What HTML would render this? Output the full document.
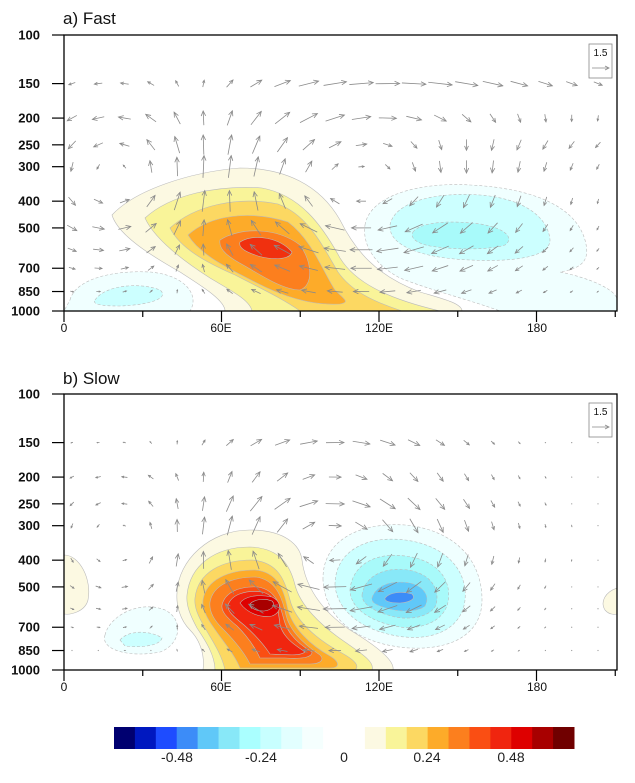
<!DOCTYPE html>
<html><head><meta charset="utf-8">
<style>
html,body{margin:0;padding:0;background:#fff;}
svg{display:block;font-family:"Liberation Sans",Arial,sans-serif;}
</style></head>
<body>
<svg id="s" width="635" height="783" viewBox="0 0 635 783" xmlns="http://www.w3.org/2000/svg">
<defs>
<clipPath id="ca"><rect x="64" y="35" width="553" height="276"/></clipPath>
<clipPath id="cb"><rect x="64" y="394" width="553" height="276"/></clipPath>
</defs>
<g clip-path="url(#ca)" stroke="#bbb" stroke-width="0.6">
 <path fill="#F0FFFF" stroke-dasharray="3,2" d="M70,300 C75,280 110,270 150,272 C185,275 200,295 190,311 L64,311Z"/>
 <path fill="#CCFFFF" stroke-dasharray="3,2" d="M95,300 C105,285 140,282 160,290 C170,298 150,305 120,306 C100,306 92,304 95,300Z"/>
 <path fill="#F0FFFF" stroke-dasharray="3,2" d="M365,225 C370,195 420,182 470,185 C530,188 575,205 585,240 C590,258 585,268 560,272 C590,278 617,290 617,300 L617,311 L500,311 C470,300 430,290 400,278 C375,265 362,245 365,225Z"/>
 <path fill="#CCFFFF" stroke-dasharray="3,2" d="M390,225 C395,200 440,192 480,195 C520,198 548,215 550,240 C550,258 510,262 470,260 C420,258 388,245 390,225Z"/>
 <path fill="#A8FAFA" stroke-dasharray="3,2" d="M413,232 C420,222 450,220 480,224 C505,228 515,238 505,245 C490,250 455,250 430,246 C415,243 410,237 413,232Z"/>
 <path fill="#FCF9E2" d="M112,215 C135,190 190,172 240,168 C285,168 320,185 340,220 C355,250 375,275 420,292 C440,298 462,303 462,311 L225,311 C225,300 200,285 180,272 C150,255 118,235 112,215Z"/>
 <path fill="#F9F499" d="M145,218 C170,195 215,185 262,188 C300,195 322,225 340,258 C355,282 385,298 440,311 L252,311 C250,300 230,290 210,278 C185,262 155,240 145,218Z"/>
 <path fill="#FCD862" d="M170,228 C195,205 238,196 278,204 C308,215 322,245 338,272 C352,292 375,302 402,311 L300,311 C285,300 260,288 235,275 C205,262 180,248 170,228Z"/>
 <path fill="#FDAB29" d="M188,235 C210,215 250,210 288,222 C312,240 322,270 335,290 C345,300 350,302 340,304 C310,306 280,295 255,282 C228,268 200,255 188,235Z"/>
 <path fill="#FC7F1E" d="M220,240 C238,228 275,226 300,245 C312,262 314,285 300,290 C285,290 265,278 245,266 C230,258 218,250 220,240Z"/>
 <path fill="#F0300F" d="M240,242 C255,233 280,238 292,252 C290,260 272,260 258,256 C246,252 238,248 240,242Z"/>
</g>
<g clip-path="url(#cb)" stroke="#bbb" stroke-width="0.6">
 <path fill="#FCF9E2" d="M64,555 C80,555 92,580 88,600 C85,612 70,615 64,614Z"/>
 <path fill="#FCF9E2" d="M617,588 C605,592 600,602 605,610 C610,616 617,614 617,614Z"/>
 <path fill="#F0FFFF" stroke-dasharray="3,2" d="M105,635 C110,615 140,600 165,610 C185,620 180,645 160,652 C130,658 100,650 105,635Z"/>
 <path fill="#CCFFFF" stroke-dasharray="3,2" d="M120,640 C128,630 150,630 162,638 C160,646 140,648 125,646Z"/>
 <path fill="#F0FFFF" stroke-dasharray="3,2" d="M323,580 C322,540 360,522 405,525 C455,530 482,560 482,600 C482,635 450,650 410,648 C360,645 325,620 323,580Z"/>
 <path fill="#CCFFFF" stroke-dasharray="3,2" d="M335,585 C335,552 365,535 405,540 C445,545 468,570 465,600 C462,628 435,640 405,637 C365,633 337,612 335,585Z"/>
 <path fill="#A8FAFA" stroke-dasharray="3,2" d="M350,590 C352,565 375,552 405,556 C438,560 452,580 448,602 C444,622 420,630 400,627 C370,622 350,608 350,590Z"/>
 <path fill="#88E8F8" stroke-dasharray="3,2" d="M362,595 C365,575 385,567 408,570 C432,574 440,590 436,605 C430,617 412,620 395,617 C375,612 362,605 362,595Z"/>
 <path fill="#60C8F8" stroke-dasharray="3,2" d="M372,598 C376,585 392,580 410,583 C425,587 430,597 425,606 C418,612 402,612 390,609 C378,606 371,603 372,598Z"/>
 <path fill="#3C8CF8" d="M385,598 C390,592 402,591 412,594 C416,598 412,602 400,603 C390,603 384,601 385,598Z"/>
 <path fill="#FCF9E2" d="M177,593 C178,560 210,530 250,530 C285,530 300,545 302,560 C305,585 320,610 350,630 C375,645 395,660 393,670 L203,670 C205,655 200,640 190,630 C180,620 176,605 177,593Z"/>
 <path fill="#F9F499" d="M187,595 C190,565 215,547 250,547 C280,548 290,565 295,585 C300,605 320,625 345,642 C362,654 375,662 372,670 L215,670 C215,655 205,640 197,628 C190,615 186,605 187,595Z"/>
 <path fill="#FCD862" d="M195,598 C198,572 222,560 252,560 C278,562 285,580 290,600 C295,620 315,638 340,652 C355,660 360,666 355,670 L225,670 C222,655 212,640 205,628 C198,616 194,607 195,598Z"/>
 <path fill="#FDAB29" d="M203,600 C206,580 228,570 255,570 C278,572 284,590 288,610 C293,628 310,645 330,656 C340,662 340,668 330,668 L240,668 C235,655 222,640 214,628 C206,617 202,608 203,600Z"/>
 <path fill="#FC7F1E" d="M210,602 C213,585 232,577 256,577 C276,580 282,597 286,615 C290,632 305,645 320,655 C325,660 320,664 310,664 L250,664 C244,652 232,638 222,628 C213,619 209,610 210,602Z"/>
 <path fill="#FA4E13" d="M222,605 C225,592 240,586 258,587 C276,590 280,605 284,620 C288,635 300,645 312,652 C312,658 300,659 285,658 L260,658 C254,645 245,634 237,626 C226,617 221,611 222,605Z"/>
 <path fill="#F0250F" d="M228,605 C232,594 246,590 262,592 C278,596 278,610 280,625 C284,640 300,648 305,652 C300,656 290,655 270,654 C262,642 252,632 244,625 C234,617 227,611 228,605Z"/>
 <path fill="#DE0000" d="M240,603 C245,596 258,594 272,597 C282,602 282,612 272,616 C260,618 247,613 240,603Z"/>
 <path fill="#A80000" d="M250,604 C255,599 264,598 272,601 C276,605 272,610 264,611 C256,611 250,608 250,604Z"/>
</g>
<g id="arrows" fill="none" stroke="#8a8a8a" stroke-width="0.8"></g>
<g fill="none" stroke="#000">
 <rect x="64" y="35" width="553" height="276" stroke-width="1.3"/>
 <rect x="64" y="394" width="553" height="276" stroke-width="1.3"/>
</g>
<g id="ticks" stroke="#000" stroke-width="1.2"></g>
<g id="labels" font-size="13" font-weight="bold" fill="#111" text-anchor="end"></g>
<g font-size="12" fill="#111" text-anchor="middle">
 <text x="64" y="332">0</text><text x="221" y="332">60E</text><text x="379" y="332">120E</text><text x="537" y="332">180</text>
 <text x="64" y="691">0</text><text x="221" y="691">60E</text><text x="379" y="691">120E</text><text x="537" y="691">180</text>
</g>
<text x="63" y="24" font-size="17" fill="#111">a) Fast</text>
<text x="63" y="384" font-size="17" fill="#111">b) Slow</text>
<g>
 <rect x="589" y="44" width="23" height="34" fill="#fff" stroke="#888" stroke-width="0.8"/>
 <text x="600.5" y="56" font-size="10" text-anchor="middle" fill="#111">1.5</text>
 <line x1="592" y1="68" x2="609" y2="68" stroke="#888" stroke-width="0.8"/><path d="M605,66 L609,68 L605,70" fill="none" stroke="#888" stroke-width="0.8"/>
 <rect x="589" y="403" width="23" height="34" fill="#fff" stroke="#888" stroke-width="0.8"/>
 <text x="600.5" y="415" font-size="10" text-anchor="middle" fill="#111">1.5</text>
 <line x1="592" y1="427" x2="609" y2="427" stroke="#888" stroke-width="0.8"/><path d="M605,425 L609,427 L605,429" fill="none" stroke="#888" stroke-width="0.8"/>
</g>
<g id="cbar"></g>
<g font-size="14" fill="#222" text-anchor="middle">
 <text x="177" y="762">-0.48</text><text x="261" y="762">-0.24</text><text x="344" y="762">0</text><text x="427" y="762">0.24</text><text x="511" y="762">0.48</text>
</g>
</svg>
<script>
var NS="http://www.w3.org/2000/svg";
function el(p,t,a){var e=document.createElementNS(NS,t);for(var k in a)e.setAttribute(k,a[k]);p.appendChild(e);return e;}
var cols=["#000070","#0018C0","#1E4CFF","#3C8CF8","#60C8F8","#88E8F8","#AAFFFF","#C8FFFF","#E2FFFF","#F5FFFE","#FFFFFF","#FFFFFF","#FCF9E2","#F9F499","#FCD862","#FDAB29","#FC7F1E","#FA4E13","#F0250F","#DE0000","#A80000","#700000"];
var cb=document.getElementById("cbar");
var w=460/22;
for(var i=0;i<22;i++)el(cb,"rect",{x:114+i*w,y:727,width:w+0.5,height:22,fill:cols[i]});
var tk=document.getElementById("ticks"),lb=document.getElementById("labels");
var P=[100,150,200,250,300,400,500,700,850,1000];
function py(p,top){return top+Math.log(p/100)/Math.log(10)*276;}
[35,394].forEach(function(top){
 P.forEach(function(p){var y=py(p,top);el(tk,"line",{x1:52,y1:y,x2:64,y2:y});var t=el(lb,"text",{x:40,y:y+4.5});t.textContent=p;});
 var bot=top+276;
 for(var d=0;d<=210;d+=30){var x=64+d*157.5/60;var L=(d%60==0)?11:6;el(tk,"line",{x1:x,y1:bot,x2:x,y2:bot+L});}
});
var ag=document.getElementById("arrows");
function g(x,y,cx,cy,sx,sy){return Math.exp(-((x-cx)*(x-cx))/(2*sx*sx)-((y-cy)*(y-cy))/(2*sy*sy));}
function field(x,y,cells){var u=0,v=0;cells.forEach(function(c){var e=g(x,y,c[0],c[1],c[2],c[3])*c[4];
 var dpdy=-e*(y-c[1])/(c[3]*c[3]);var dpdx=-e*(x-c[0])/(c[2]*c[2]);u+=dpdy;v+=-dpdx;});return [u,v];}
function arrows(top,cells,scale){
 var lv=[150,200,250,300,400,500,600,700,850];
 lv.forEach(function(p){var y=py(p,top);
  for(var x=72;x<615;x+=26.3){
   var f=field(x,y,cells);var u=f[0]*scale,v=f[1]*scale;var m=Math.sqrt(u*u+v*v);
   if(m>24){u*=24/m;v*=24/m;m=24;}
   if(m<1.5){el(ag,"circle",{cx:x,cy:y,r:0.6,fill:"#999",stroke:"none"});continue;}
   var x1=x-u/2,y1=y-v/2,x2=x+u/2,y2=y+v/2;
   el(ag,"line",{x1:x1,y1:y1,x2:x2,y2:y2});
   var ux=u/m,uy=v/m,h=Math.min(5,m*0.4);
   var bx=x2-ux*h,by=y2-uy*h;
   el(ag,"path",{d:"M"+(bx-uy*h*0.45)+","+(by+ux*h*0.45)+" L"+x2+","+y2+" L"+(bx+uy*h*0.45)+","+(by-ux*h*0.45)});
  }});
}
arrows(35,[[360,185,110,65,1],[130,175,70,55,-0.55],[470,110,120,30,0.25]],2400);
arrows(394,[[330,545,90,55,1],[150,540,70,50,-0.3],[340,450,80,25,0.2]],2200);
</script>
</body></html>
